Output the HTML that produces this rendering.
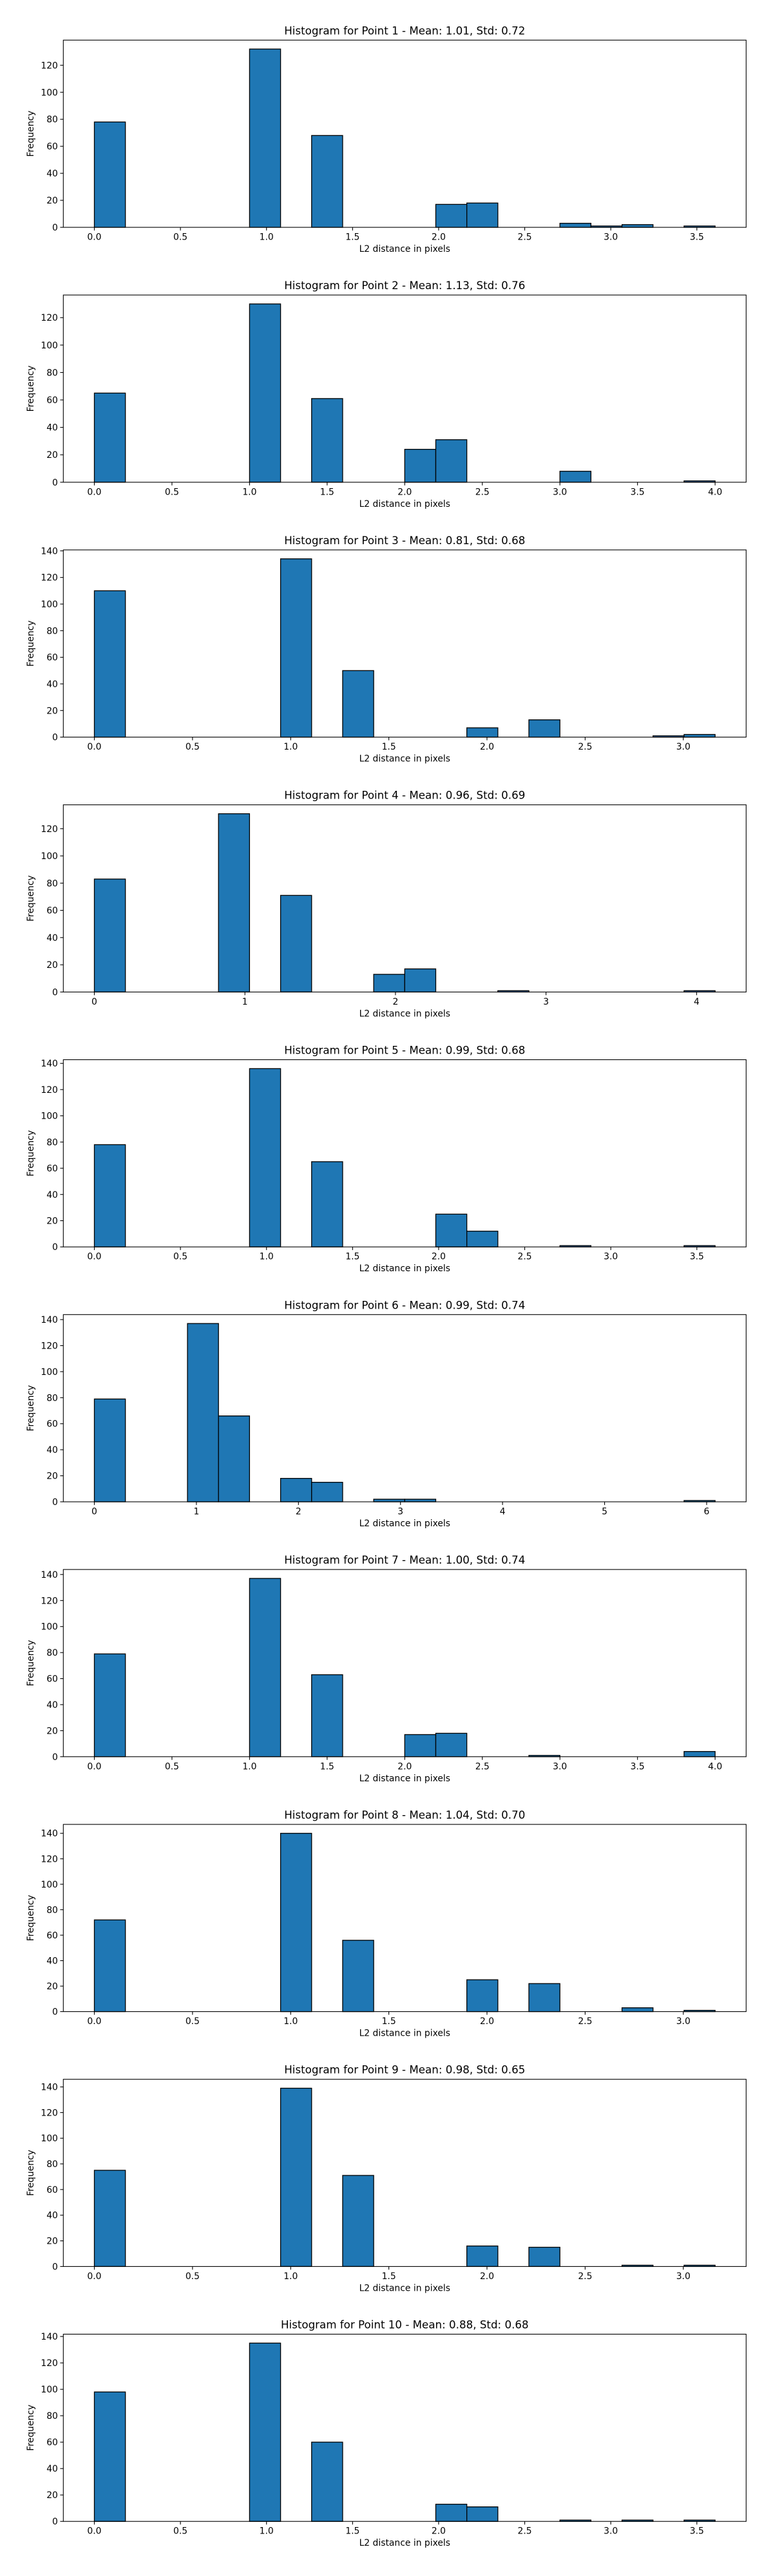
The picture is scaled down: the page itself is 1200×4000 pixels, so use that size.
<!DOCTYPE html>
<html><head><meta charset="utf-8">
<style>
html,body{margin:0;padding:0;background:#fff;}
svg{display:block;font-family:"DejaVu Sans","Liberation Sans",sans-serif;}
</style></head>
<body>
<svg id="fig" width="1200" height="4000" viewBox="0 0 1200 4000" xmlns="http://www.w3.org/2000/svg"></svg>
<script>
const titles = [
 "Histogram for Point 1 - Mean: 1.01, Std: 0.72",
 "Histogram for Point 2 - Mean: 1.13, Std: 0.76",
 "Histogram for Point 3 - Mean: 0.81, Std: 0.68",
 "Histogram for Point 4 - Mean: 0.96, Std: 0.69",
 "Histogram for Point 5 - Mean: 0.99, Std: 0.68",
 "Histogram for Point 6 - Mean: 0.99, Std: 0.74",
 "Histogram for Point 7 - Mean: 1.00, Std: 0.74",
 "Histogram for Point 8 - Mean: 1.04, Std: 0.70",
 "Histogram for Point 9 - Mean: 0.98, Std: 0.65",
 "Histogram for Point 10 - Mean: 0.88, Std: 0.68"
];
const dataMax = [3.606, 4.0, 3.162, 4.123, 3.606, 6.083, 4.0, 3.162, 3.162, 3.606];
const xTickStep = [0.5, 0.5, 0.5, 1, 0.5, 1, 0.5, 0.5, 0.5, 0.5];
const xTickDecimals = [1, 1, 1, 0, 1, 0, 1, 1, 1, 1];
const counts1  = [78,0,0,0,0,132,0,68,0,0,0,17,18,0,0,3,1,2,0,1];
const counts2  = [65,0,0,0,0,130,0,61,0,0,24,31,0,0,0,8,0,0,0,1];
const counts3  = [110,0,0,0,0,0,134,0,50,0,0,0,7,0,13,0,0,0,1,2];
const counts4  = [83,0,0,0,131,0,71,0,0,13,17,0,0,1,0,0,0,0,0,1];
const counts5  = [78,0,0,0,0,136,0,65,0,0,0,25,12,0,0,1,0,0,0,1];
const counts6  = [79,0,0,137,66,0,18,15,0,2,2,0,0,0,0,0,0,0,0,1];
const counts7  = [79,0,0,0,0,137,0,63,0,0,17,18,0,0,1,0,0,0,0,4];
const counts8  = [72,0,0,0,0,0,140,0,56,0,0,0,25,0,22,0,0,3,0,1];
const counts9  = [75,0,0,0,0,0,139,0,71,0,0,0,16,0,15,0,0,1,0,1];
const counts10 = [98,0,0,0,0,135,0,60,0,0,0,13,11,0,0,1,0,1,0,1];
const allCounts = [counts1,counts2,counts3,counts4,counts5,counts6,counts7,counts8,counts9,counts10];

const NS = "http://www.w3.org/2000/svg";
const fig = document.getElementById('fig');
function mk(tag, attrs, parent){
  const e = document.createElementNS(NS, tag);
  for (const k in attrs) e.setAttribute(k, attrs[k]);
  parent.appendChild(e);
  return e;
}
const AX_L = 98.3, AX_R = 1158.3, AX_H = 290.7, TOP0 = 62.3, STEP = 395.8;

for (let c = 0; c < 10; c++) {
  const counts = allCounts[c];
  const top = TOP0 + c * STEP, bot = top + AX_H;
  const xmax = dataMax[c], nb = counts.length, w = xmax / nb;
  const xlo = -0.05 * xmax, xhi = xmax * 1.05;
  const ymaxc = Math.max(...counts) * 1.05;
  const xs = v => AX_L + (v - xlo) / (xhi - xlo) * (AX_R - AX_L);
  const ys = v => bot - v / ymaxc * AX_H;

  const g = mk('g', {}, fig);
  
  

  const t = mk('text', {x: (AX_L + AX_R) / 2, y: top - 9, 'text-anchor': 'middle', 'font-size': 16.7, fill: '#000'}, g);
  
  
  t.textContent = titles[c];

  for (let i = 0; i < nb; i++) {
    const x0 = xs(i * w), x1 = xs((i + 1) * w);
    const r = mk('rect', {x: x0, y: ys(counts[i]), width: x1 - x0, height: bot - ys(counts[i]), fill: '#1f77b4', stroke: '#000', 'stroke-width': 1.3}, g);
    
    
  }

  const f = mk('rect', {x: AX_L, y: top, width: AX_R - AX_L, height: AX_H, fill: 'none', stroke: '#000', 'stroke-width': 1.1}, g);
  
  

  const st = xTickStep[c];
  for (let k = 0; k * st <= xhi + 1e-9; k++) {
    const v = k * st, x = xs(v);
    mk('line', {x1: x, x2: x, y1: bot, y2: bot + 4.9, stroke: '#000', 'stroke-width': 1.1}, g);
    const tl = mk('text', {x: x, y: bot + 19.5, 'text-anchor': 'middle', 'font-size': 13.9, fill: '#000'}, g);
    
    
    tl.textContent = v.toFixed(xTickDecimals[c]);
  }
  for (let v = 0; v <= ymaxc; v += 20) {
    const y = ys(v);
    mk('line', {x1: AX_L - 4.9, x2: AX_L, y1: y, y2: y, stroke: '#000', 'stroke-width': 1.1}, g);
    const tl = mk('text', {x: AX_L - 8.4, y: y + 5, 'text-anchor': 'end', 'font-size': 13.9, fill: '#000'}, g);
    
    
    tl.textContent = String(v);
  }
  const xl = mk('text', {x: (AX_L + AX_R) / 2, y: bot + 38, 'text-anchor': 'middle', 'font-size': 13.9, fill: '#000'}, g);
  
  
  xl.textContent = 'L2 distance in pixels';
  const yl = mk('text', {x: 0, y: 0, 'text-anchor': 'middle', 'font-size': 13.9, fill: '#000', transform: 'translate(52,' + (top + AX_H / 2) + ') rotate(-90)'}, g);
  
  
  yl.textContent = 'Frequency';
}
</script>
</body></html>
